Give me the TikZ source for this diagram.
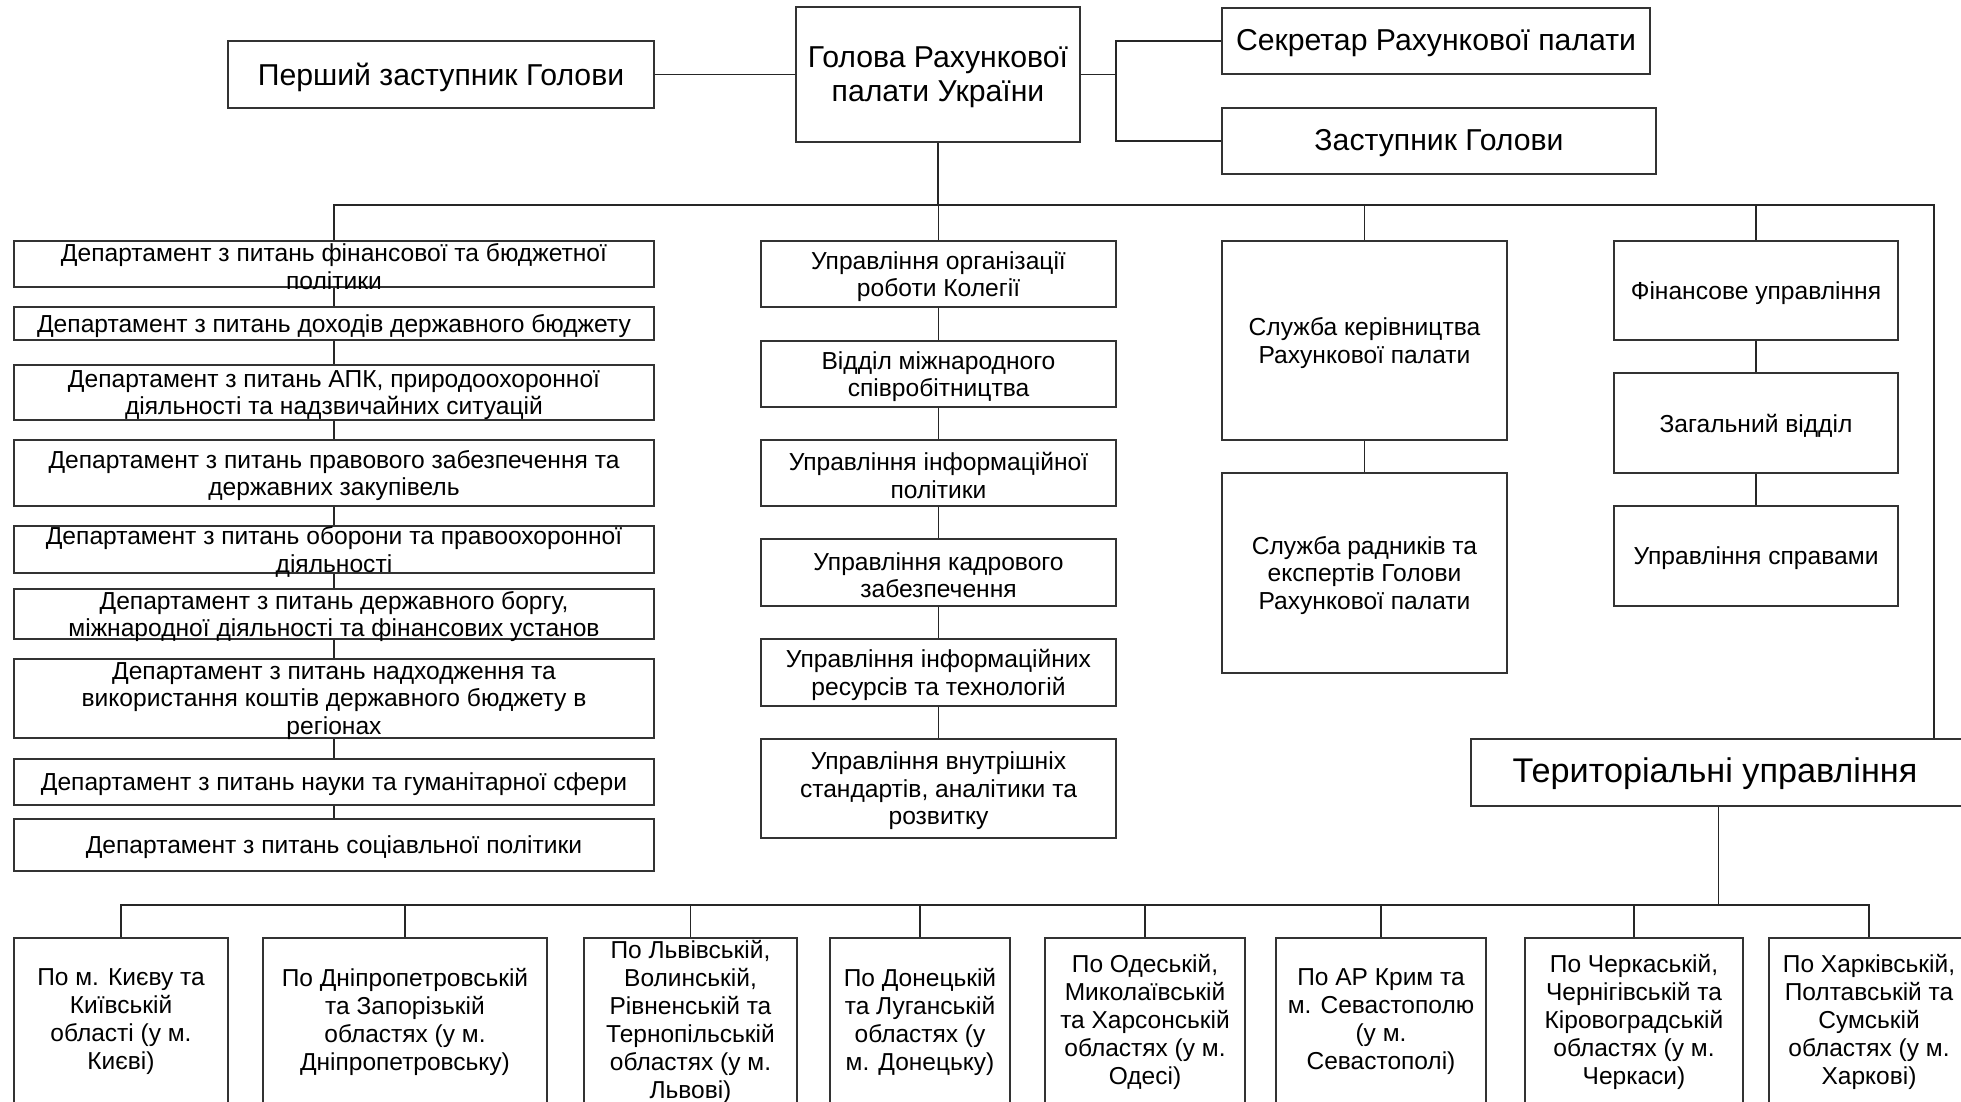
\documentclass[tikz,border=0pt]{standalone}
\usepackage{fontspec}
\setmainfont{Liberation Sans}
\tikzset{
  box/.style={draw=black!80, line width=1.4pt, inner sep=0pt, fill=none},
  conn/.style={draw=black!85, line width=1.1pt},
  fbig/.style={font=\fontsize{30.2}{34}\selectfont, yshift=-2.5pt},
  fmid/.style={font=\fontsize{24.6}{27.5}\selectfont, yshift=-2.5pt},
  fbot/.style={font=\fontsize{24.5}{28}\selectfont, yshift=-1pt},
  fter/.style={font=\fontsize{34.2}{37}\selectfont, yshift=-1.5pt},
}
\newcommand{\bx}[7]{%
  \node[box, minimum width={#4-#2}, minimum height={#5-#3}] (#1) at ({(#2+#4)/2},{(#3+#5)/2}) {};
  \node[#6, align=center, inner sep=0pt] (#1t) at (#1.center) {#7};
}
\begin{document}
\begin{tikzpicture}[x=1pt,y=-1pt]
\useasboundingbox (0,0) rectangle (1961,1101);
\clip (0,0) rectangle (1961,1101);
\fill[white] (0,0) rectangle (1961,1101);
% top
\bx{per}{228}{41}{654}{108}{fbig}{Перший заступник Голови}
\bx{hol}{796}{7}{1080}{142}{fbig}{Голова Рахункової\\палати України}
\bx{sec}{1222}{8}{1650}{74}{fbig}{Секретар Рахункової палати}
\bx{zas}{1222}{108}{1656}{174}{fbig}{Заступник Голови}
% departments
\bx{d1}{14}{241}{654}{287}{fmid}{Департамент з питань фінансової та бюджетної\\політики}
\bx{d2}{14}{307}{654}{340}{fmid}{Департамент з питань доходів державного бюджету}
\bx{d3}{14}{365}{654}{420}{fmid}{Департамент з питань АПК, природоохоронної\\діяльності та надзвичайних ситуацій}
\bx{d4}{14}{440}{654}{506}{fmid}{Департамент з питань правового забезпечення та\\державних закупівель}
\bx{d5}{14}{526}{654}{573}{fmid}{Департамент з питань оборони та правоохоронної\\діяльності}
\bx{d6}{14}{589}{654}{639}{fmid}{Департамент з питань державного боргу,\\міжнародної діяльності та фінансових установ}
\bx{d7}{14}{659}{654}{738}{fmid}{Департамент з питань надходження та\\використання коштів державного бюджету в\\регіонах}
\bx{d8}{14}{759}{654}{805}{fmid}{Департамент з питань науки та гуманітарної сфери}
\bx{d9}{14}{819}{654}{871}{fmid}{Департамент з питань соціавльної політики}
% middle column
\bx{u1}{761}{241}{1116}{307}{fmid}{Управління організації\\роботи Колегії}
\bx{u2}{761}{341}{1116}{407}{fmid}{Відділ міжнародного\\співробітництва}
\bx{u3}{761}{440}{1116}{506}{fmid}{Управління інформаційної\\політики}
\bx{u4}{761}{539}{1116}{606}{fmid}{Управління кадрового\\забезпечення}
\bx{u5}{761}{639}{1116}{706}{fmid}{Управління інформаційних\\ресурсів та технологій}
\bx{u6}{761}{739}{1116}{838}{fmid}{Управління внутрішніх\\стандартів, аналітики та\\розвитку}
% services
\bx{sk}{1222}{241}{1507}{440}{fmid}{Служба керівництва\\Рахункової палати}
\bx{sr}{1222}{473}{1507}{673}{fmid}{Служба радників та\\експертів Голови\\Рахункової палати}
% finance
\bx{fa}{1614}{241}{1898}{340}{fmid}{Фінансове управління}
\bx{fb}{1614}{373}{1898}{473}{fmid}{Загальний відділ}
\bx{fc}{1614}{506}{1898}{606}{fmid}{Управління справами}
% territorial
\node[box, minimum width=495, minimum height=67] (ter) at (1718.5,772.5) {};
\node[fter, inner sep=0pt] (tert) at (1715,772.5) {Територіальні управління};
\bx{b1}{14}{938}{228}{1104}{fbot}{По м. Києву та\\Київській\\області (у м.\\Києві)}
\bx{b2}{263}{938}{547}{1104}{fbot}{По Дніпропетровській\\та Запорізькій\\областях (у м.\\Дніпропетровську)}
\bx{b3}{584}{938}{797}{1104}{fbot}{По Львівській,\\Волинській,\\Рівненській та\\Тернопільській\\областях (у м.\\Львові)}
\bx{b4}{830}{938}{1010}{1104}{fbot}{По Донецькій\\та Луганській\\областях (у\\м. Донецьку)}
\bx{b5}{1045}{938}{1245}{1104}{fbot}{По Одеській,\\Миколаївській\\та Харсонській\\областях (у м.\\Одесі)}
\bx{b6}{1276}{938}{1486}{1104}{fbot}{По АР Крим та\\м. Севастополю\\(у м.\\Севастополі)}
\bx{b7}{1525}{938}{1743}{1104}{fbot}{По Черкаській,\\Чернігівській та\\Кіровоградській\\областях (у м.\\Черкаси)}
\bx{b8}{1769}{938}{1969}{1104}{fbot}{По Харківській,\\Полтавській та\\Сумській\\областях (у м.\\Харкові)}
% connectors top
\coordinate (j1) at (1116,74.5);
\coordinate (bus) at (0,205);
\coordinate (busR) at (1934,205);
\draw[conn] (hol.west) -- (per.east);
\draw[conn] (hol.east) -- (j1) |- (sec.west);
\draw[conn] (j1) |- (zas.west);
\draw[conn] (hol.south) -- (hol.south |- bus);
\draw[conn] (d1.north) |- (busR) -- (busR |- ter.north);
\draw[conn] (u1.north) -- (u1.north |- bus);
\draw[conn] (sk.north) -- (sk.north |- bus);
\draw[conn] (fa.north) -- (fa.north |- bus);
% chains
\foreach \a/\b in {d1/d2,d2/d3,d3/d4,d4/d5,d5/d6,d6/d7,d7/d8,d8/d9,u1/u2,u2/u3,u3/u4,u4/u5,u5/u6,sk/sr,fa/fb,fb/fc}
  \draw[conn] (\a.south) -- (\b.north);
% bottom
\coordinate (bb) at (0,905);
\draw[conn] (ter.south) -- (ter.south |- bb);
\draw[conn] (b1.north) |- (b8.north |- bb) -- (b8.north);
\foreach \n in {b2,b3,b4,b5,b6,b7}
  \draw[conn] (\n.north) -- (\n.north |- bb);
\end{tikzpicture}
\end{document}
